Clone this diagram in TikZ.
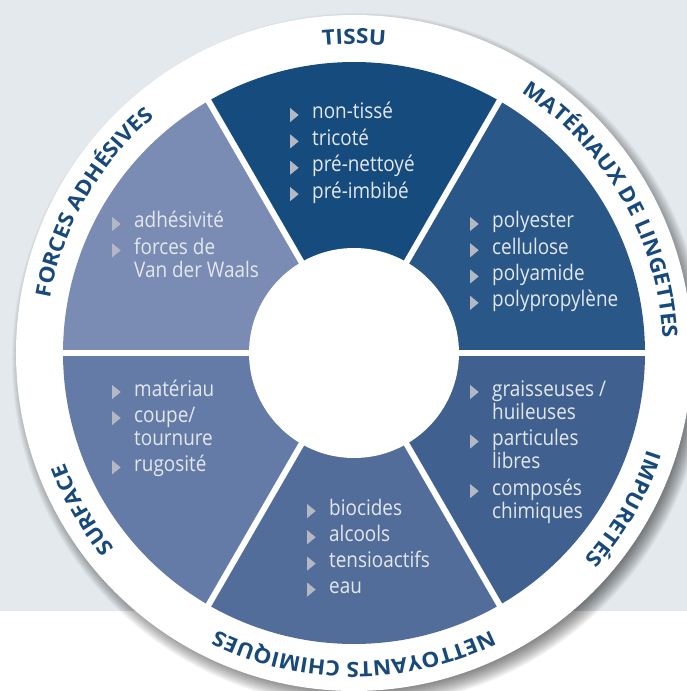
\documentclass[tikz,border=0pt]{standalone}
\usepackage{fontspec}
\usetikzlibrary{decorations.text}
\setmainfont{Open Sans}
\newfontfamily\itemfont[FakeStretch=0.88]{Open Sans}
\newfontfamily\labelfont[FakeStretch=1.08]{Open Sans}
\definecolor{bggrey}{HTML}{E3E9ED}
\definecolor{tissublue}{HTML}{154B7D}
\definecolor{matblue}{HTML}{285788}
\definecolor{impblue}{HTML}{40618F}
\definecolor{netblue}{HTML}{536D9B}
\definecolor{surfblue}{HTML}{647BA7}
\definecolor{forcblue}{HTML}{7A8CB3}
\definecolor{labelblue}{HTML}{17497A}
\definecolor{bulletgrey}{HTML}{B3B8C2}
\definecolor{itemwhite}{HTML}{E4E8EE}
\newcommand{\bul}{\makebox[22pt][l]{\tikz[baseline=0pt]\fill[bulletgrey] (0pt,-3pt) -- (0pt,11pt) -- (8.5pt,4pt) -- cycle;}}
\newcommand{\bullets}[1]{\begin{tabular}[t]{@{}l@{}l@{}}#1\end{tabular}}
\begin{document}
\begin{tikzpicture}[x=1pt,y=1pt]
  \tikzset{
    sector/.style={fill=#1},
    sectorgap/.style={white, line width=6pt},
    itemlist/.style={anchor=base west, inner sep=0pt, text=itemwhite, font=\itemfont\fontsize{21.5}{23}\selectfont},
    ringlabel/.style={decorate, decoration={text along path, text align=center, text color=labelblue,
      text={|\labelfont\bfseries\fontsize{21}{24}\selectfont|#1}}}
  }
  \useasboundingbox (-354,-338) rectangle (333,353);
  % background and shadow
  \fill[bggrey] (-354,-258) rectangle (333,353);
  \foreach \r in {0,...,19}
    \fill[black, opacity=0.035] (5,-7) circle[radius=328+\r];
  \fill[white] (0,0) circle[radius=338];
  % sectors
  \fill[sector=matblue] (0,0) -- (0:291) arc[start angle=0, end angle=60, radius=291] -- cycle;
  \fill[sector=tissublue] (0,0) -- (60:291) arc[start angle=60, end angle=120, radius=291] -- cycle;
  \fill[sector=forcblue] (0,0) -- (120:291) arc[start angle=120, end angle=180, radius=291] -- cycle;
  \fill[sector=surfblue] (0,0) -- (180:291) arc[start angle=180, end angle=240, radius=291] -- cycle;
  \fill[sector=netblue] (0,0) -- (240:291) arc[start angle=240, end angle=300, radius=291] -- cycle;
  \fill[sector=impblue] (0,0) -- (300:291) arc[start angle=300, end angle=360, radius=291] -- cycle;
  \foreach \a in {0,60,...,300}
    \draw[sectorgap] (0,0) -- (\a:293);
  \fill[white] (0,0) circle[radius=105];
  % ring labels
  \path[ringlabel=TISSU] (119:309) arc[start angle=119, end angle=61, radius=309];
  \path[ringlabel={MATÉRIAUX DE LINGETTES}] (59:309) arc[start angle=59, end angle=1, radius=309];
  \path[ringlabel=IMPURETÉS] (-1:309) arc[start angle=-1, end angle=-59, radius=309];
  \path[ringlabel={NETTOYANTS CHIMIQUES}] (-61:309) arc[start angle=-61, end angle=-119, radius=309];
  \path[ringlabel=SURFACE] (-121:309) arc[start angle=-121, end angle=-179, radius=309];
  \path[ringlabel={FORCES ADHÉSIVES}] (179:309) arc[start angle=179, end angle=121, radius=309];
  % item lists
  \node[itemlist] (tissu) at (-64,234) {\bullets{\bul & non-tissé\\[3pt] \bul & tricoté\\[3pt] \bul & pré-nettoyé\\[3pt] \bul & pré-imbibé}};
  \node[itemlist] (materiaux) at (116,125) {\bullets{\bul & polyester\\[3pt] \bul & cellulose\\[3pt] \bul & polyamide\\[3pt] \bul & polypropylène}};
  \node[itemlist] (forces) at (-242,125) {\bullets{\bul & adhésivité\\[3pt] \bul & forces de\\ & Van der Waals}};
  \node[itemlist] (surface) at (-242,-43) {\bullets{\bul & matériau\\[3pt] \bul & coupe/\\ & tournure\\[3pt] \bul & rugosité}};
  \node[itemlist] (impuretes) at (116,-43) {\bullets{\bul & graisseuses /\\ & huileuses\\[3pt] \bul & particules\\ & libres\\[3pt] \bul & composés\\ & chimiques}};
  \node[itemlist] (nettoyants) at (-47,-162) {\bullets{\bul & biocides\\[3pt] \bul & alcools\\[3pt] \bul & tensioactifs\\[3pt] \bul & eau}};
\end{tikzpicture}
\end{document}
